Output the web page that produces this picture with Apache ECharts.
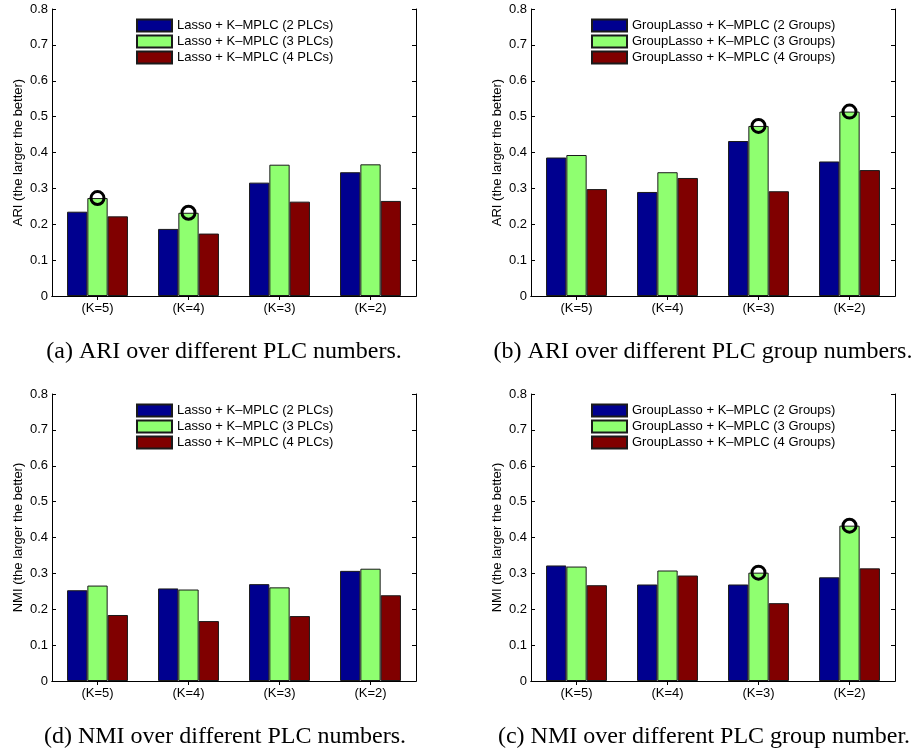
<!DOCTYPE html>
<html>
<head>
<meta charset="utf-8">
<script src="https://cdn.jsdelivr.net/npm/echarts@6/dist/echarts.min.js"></script>
<style>
html,body{margin:0;padding:0;background:#fff;}
#chart{width:915px;height:753px;}
</style>
</head>
<body>
<div id="chart"></div>
<script>
const categories = ['(K=5)', '(K=4)', '(K=3)', '(K=2)'];
const lassoNames = ['Lasso + K\u2013MPLC (2 PLCs)', 'Lasso + K\u2013MPLC (3 PLCs)', 'Lasso + K\u2013MPLC (4 PLCs)'];
const groupNames = ['GroupLasso + K\u2013MPLC (2 Groups)', 'GroupLasso + K\u2013MPLC (3 Groups)', 'GroupLasso + K\u2013MPLC (4 Groups)'];
const yTicks = [0, 0.1, 0.2, 0.3, 0.4, 0.5, 0.6, 0.7, 0.8];

const ariLasso2 = [0.235, 0.187, 0.316, 0.345];
const ariLasso3 = [0.273, 0.232, 0.366, 0.367];
const ariLasso4 = [0.222, 0.174, 0.263, 0.265];
const ariLassoMarked = [0, 1];

const ariGroup2 = [0.386, 0.290, 0.432, 0.375];
const ariGroup3 = [0.393, 0.345, 0.474, 0.514];
const ariGroup4 = [0.298, 0.329, 0.292, 0.351];
const ariGroupMarked = [2, 3];

const nmiLasso2 = [0.253, 0.258, 0.270, 0.307];
const nmiLasso3 = [0.266, 0.255, 0.261, 0.313];
const nmiLasso4 = [0.184, 0.167, 0.181, 0.239];
const nmiLassoMarked = [];

const nmiGroup2 = [0.322, 0.269, 0.269, 0.289];
const nmiGroup3 = [0.319, 0.308, 0.302, 0.433];
const nmiGroup4 = [0.267, 0.294, 0.217, 0.314];
const nmiGroupMarked = [2, 3];

const captions = [
  '(a) ARI over different PLC numbers.',
  '(b) ARI over different PLC group numbers.',
  '(d) NMI over different PLC numbers.',
  '(c) NMI over different PLC group number.'
];
const yNames = ['ARI (the larger the better)', 'ARI (the larger the better)', 'NMI (the larger the better)', 'NMI (the larger the better)'];

const colors = ['#00008F', '#8FFF70', '#800000'];
const FONT = '"Liberation Sans", Arial, Helvetica, sans-serif';

const panels = [
  {names: lassoNames, data: [ariLasso2, ariLasso3, ariLasso4], marked: ariLassoMarked, left: 52, top: 9, legendLeft: 136, cap: [224, 352]},
  {names: groupNames, data: [ariGroup2, ariGroup3, ariGroup4], marked: ariGroupMarked, left: 531, top: 9, legendLeft: 591, cap: [703, 352]},
  {names: lassoNames, data: [nmiLasso2, nmiLasso3, nmiLasso4], marked: nmiLassoMarked, left: 52, top: 394, legendLeft: 136, cap: [225, 737]},
  {names: groupNames, data: [nmiGroup2, nmiGroup3, nmiGroup4], marked: nmiGroupMarked, left: 531, top: 394, legendLeft: 591, cap: [704, 737]}
];
const W = 364, H = 287;

const grid = [], xAxis = [], yAxis = [], series = [], legend = [], graphic = [];
panels.forEach((p, k) => {
  grid.push({left: p.left, top: p.top, width: W, height: H, containLabel: false});
  const axLine = {show: true, lineStyle: {color: '#000', width: 1}};
  xAxis.push({
    type: 'category', gridIndex: k, data: categories, position: 'bottom',
    axisLine: axLine,
    axisTick: {show: true, inside: true, alignWithLabel: true, length: 4, lineStyle: {color: '#000'}},
    axisLabel: {color: '#000', fontFamily: FONT, fontSize: 13, margin: 6},
    splitLine: {show: false}
  });
  xAxis.push({
    type: 'category', gridIndex: k, data: categories, position: 'top',
    axisLine: axLine,
    axisTick: {show: true, inside: true, alignWithLabel: true, length: 4, lineStyle: {color: '#000'}},
    axisLabel: {show: false}, splitLine: {show: false}
  });
  yAxis.push({
    type: 'value', gridIndex: k, min: yTicks[0], max: yTicks[yTicks.length - 1], interval: 0.1, position: 'left',
    name: yNames[k], nameLocation: 'middle', nameGap: 27,
    nameTextStyle: {color: '#000', fontFamily: FONT, fontSize: 13},
    axisLine: axLine,
    axisTick: {show: true, inside: true, length: 4, lineStyle: {color: '#000'}},
    axisLabel: {color: '#000', fontFamily: FONT, fontSize: 13, margin: 4,
      formatter: v => String(+v.toFixed(1))},
    splitLine: {show: false}
  });
  yAxis.push({
    type: 'value', gridIndex: k, min: yTicks[0], max: yTicks[yTicks.length - 1], interval: 0.1, position: 'right',
    axisLine: axLine,
    axisTick: {show: true, inside: true, length: 4, lineStyle: {color: '#000'}},
    axisLabel: {show: false}, splitLine: {show: false}
  });
  p.data.forEach((arr, j) => {
    series.push({
      type: 'bar', name: p.names[j], xAxisIndex: 2 * k, yAxisIndex: 2 * k,
      data: arr, barWidth: 20.3, barGap: '0%',
      itemStyle: {color: colors[j], borderColor: '#1a1a1a', borderWidth: 1},
      emphasis: {disabled: true}, animation: false
    });
  });
  const mid = p.data[1];
  series.push({
    type: 'scatter', xAxisIndex: 2 * k, yAxisIndex: 2 * k, z: 10,
    data: mid.map((v, i) => p.marked.includes(i) ? [i, v] : [i, '-']),
    symbol: 'circle', symbolSize: 13,
    itemStyle: {color: 'rgba(0,0,0,0)', borderColor: '#000', borderWidth: 3, opacity: 1},
    emphasis: {disabled: true}, animation: false
  });
  legend.push({
    data: p.names, orient: 'vertical', left: p.legendLeft, top: p.top + 9.5, padding: 0,
    icon: 'rect', itemWidth: 35, itemHeight: 12, itemGap: 2,
    textStyle: {color: '#000', fontFamily: FONT, fontSize: 13, lineHeight: 14},
    selectedMode: false
  });
  graphic.push({
    type: 'text', x: p.cap[0], y: p.cap[1],
    style: {text: captions[k], fill: '#000', font: '24px "Liberation Serif", "Times New Roman", serif',
      textAlign: 'center', textVerticalAlign: 'middle', align: 'center', verticalAlign: 'middle'}
  });
});

const chart = echarts.init(document.getElementById('chart'), null, {renderer: 'canvas'});
chart.setOption({
  animation: false,
  backgroundColor: '#fff',
  grid, xAxis, yAxis, series, legend, graphic
});
</script>
</body>
</html>
